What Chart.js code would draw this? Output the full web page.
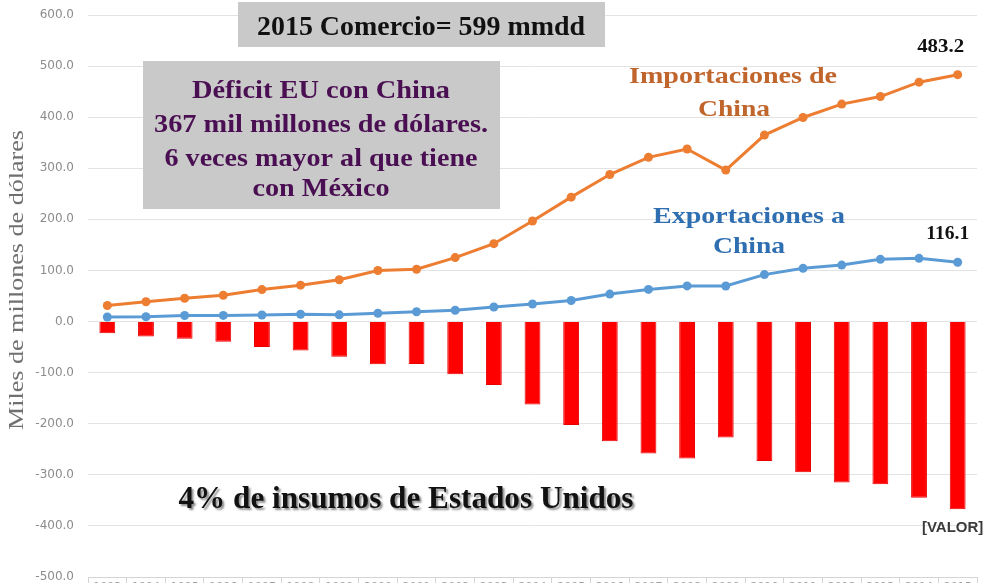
<!DOCTYPE html>
<html>
<head>
<meta charset="utf-8">
<script src="https://cdn.jsdelivr.net/npm/chart.js@4/dist/chart.umd.min.js"></script>
<style>
  html, body { margin: 0; padding: 0; width: 995px; height: 583px; overflow: hidden; background: #ffffff; }
  #wrap { position: relative; width: 995px; height: 600px; }
</style>
</head>
<body>
<div id="wrap"><canvas id="chart" width="995" height="600"></canvas></div>
<script>
// US trade in goods with China, billions of dollars (1993–2015)
const years = ['1993','1994','1995','1996','1997','1998','1999','2000','2001','2002','2003','2004',
               '2005','2006','2007','2008','2009','2010','2011','2012','2013','2014','2015'];
const importaciones = [31.5, 38.8, 45.5, 51.5, 62.6, 71.2, 81.8, 100.0, 102.3, 125.2, 152.4, 196.7,
                       243.5, 287.8, 321.4, 337.8, 296.4, 364.9, 399.4, 425.6, 440.4, 468.5, 483.2];
const exportaciones = [8.8, 9.3, 11.8, 12.0, 12.9, 14.2, 13.1, 16.2, 19.2, 22.1, 28.4, 34.4,
                       41.2, 53.7, 62.9, 69.7, 69.5, 91.9, 104.1, 110.5, 121.7, 123.7, 116.1];
const deficit = [-22.8, -29.5, -33.8, -39.5, -49.7, -56.9, -68.7, -83.8, -83.1, -103.1, -124.1, -162.3,
                 -202.3, -234.1, -258.5, -268.0, -226.9, -273.0, -295.2, -315.1, -318.7, -344.8, -367.2];
const yTicks = [-500, -400, -300, -200, -100, 0, 100, 200, 300, 400, 500, 600];

const SERIF = '"Liberation Serif", "Times New Roman", serif';

// draw text centred on cx, squeezed/stretched horizontally to the given width
function fitText(ctx, text, cx, baseline, size, width, color, weight) {
  ctx.save();
  ctx.font = (weight || 'bold') + ' ' + size + 'px ' + SERIF;
  const w = ctx.measureText(text).width;
  ctx.translate(cx, baseline);
  ctx.scale(width / w, 1);
  ctx.textAlign = 'center';
  ctx.textBaseline = 'alphabetic';
  ctx.fillStyle = color;
  ctx.fillText(text, 0, 0);
  ctx.restore();
}

const notes = {
  id: 'notes',
  afterDatasetsDraw(chart) {
    const ctx = chart.ctx;

    // y-axis title
    ctx.save();
    ctx.translate(18, 280);
    ctx.rotate(-Math.PI / 2);
    ctx.font = '20px ' + SERIF;
    const tw = ctx.measureText('Miles de millones de dólares').width;
    ctx.scale(300 / tw, 1);
    ctx.textAlign = 'center';
    ctx.textBaseline = 'middle';
    ctx.fillStyle = '#707070';
    ctx.fillText('Miles de millones de dólares', 0, 0);
    ctx.restore();

    // headline box
    ctx.fillStyle = '#c9c9c9';
    ctx.fillRect(238, 2, 367, 45);
    fitText(ctx, '2015 Comercio= 599 mmdd', 421, 35, 27, 328, '#111111');

    // deficit box
    ctx.fillStyle = '#c9c9c9';
    ctx.fillRect(143, 61, 357, 148);
    const purple = '#4a0f52';
    fitText(ctx, 'Déficit EU con China', 321, 98, 25, 258, purple);
    fitText(ctx, '367 mil millones de dólares.', 321, 132, 25, 334, purple);
    fitText(ctx, '6 veces mayor al que tiene', 321, 166, 25, 313, purple);
    fitText(ctx, 'con México', 321, 196, 25, 137, purple);

    // series captions
    fitText(ctx, 'Importaciones de', 733, 83, 24, 208, '#c0652b');
    fitText(ctx, 'China', 734, 116, 24, 72, '#c0652b');
    fitText(ctx, 'Exportaciones a', 749, 223, 24, 192, '#2f6eb0');
    fitText(ctx, 'China', 749, 253, 24, 72, '#2f6eb0');

    // bottom caption with drop shadow
    ctx.save();
    ctx.shadowColor = 'rgba(0,0,0,0.45)';
    ctx.shadowOffsetX = 2;
    ctx.shadowOffsetY = 2;
    ctx.shadowBlur = 2;
    fitText(ctx, '4% de insumos de Estados Unidos', 406, 508, 31, 455, '#111111');
    ctx.restore();

    // value labels on the last points of each line
    const last = years.length - 1;
    const pImp = chart.getDatasetMeta(1).data[last];
    const pExp = chart.getDatasetMeta(2).data[last];
    fitText(ctx, importaciones[last].toFixed(1), pImp.x - 17, pImp.y - 23, 19, 47, '#111111');
    fitText(ctx, exportaciones[last].toFixed(1), pExp.x - 10, pExp.y - 23, 19, 43, '#111111');

    // placeholder label under the last bar
    const bar = chart.getDatasetMeta(0).data[last];
    ctx.save();
    ctx.font = 'bold 15px "Liberation Sans", Arial, sans-serif';
    ctx.fillStyle = '#3a3a3a';
    ctx.textAlign = 'center';
    ctx.textBaseline = 'alphabetic';
    ctx.fillText('[VALOR]', bar.x - 5, bar.y + 23);
    ctx.restore();
  }
};

new Chart(document.getElementById('chart'), {
  type: 'bar',
  data: {
    labels: years,
    datasets: [
      {
        type: 'bar',
        label: 'Déficit',
        data: deficit,
        backgroundColor: '#ff0000',
        borderColor: '#e60000',
        borderWidth: 1,
        barPercentage: 0.41,
        categoryPercentage: 1,
        order: 3
      },
      {
        type: 'line',
        label: 'Importaciones de China',
        data: importaciones,
        borderColor: '#ed7d31',
        backgroundColor: '#ed7d31',
        borderWidth: 3,
        pointRadius: 4.5,
        pointBorderWidth: 0,
        tension: 0,
        order: 1
      },
      {
        type: 'line',
        label: 'Exportaciones a China',
        data: exportaciones,
        borderColor: '#5b9bd5',
        backgroundColor: '#5b9bd5',
        borderWidth: 3,
        pointRadius: 4.5,
        pointBorderWidth: 0,
        tension: 0,
        order: 2
      }
    ]
  },
  options: {
    responsive: false,
    animation: false,
    devicePixelRatio: 1,
    layout: { padding: { top: 15, right: 18, bottom: 3, left: 0 } },
    plugins: { legend: { display: false }, tooltip: { enabled: false } },
    scales: {
      x: {
        offset: true,
        grid: { display: true, drawOnChartArea: false, drawTicks: true, tickLength: 10, color: '#d4d4d4', offset: true },
        border: { display: true, color: '#d4d4d4' },
        ticks: { padding: -6, color: '#a0a0a0', font: { family: '"DejaVu Sans", sans-serif', size: 11 }, maxRotation: 0, autoSkip: false },
        afterFit(scale) { scale.height = 20; }
      },
      y: {
        min: -500,
        max: 600,
        afterBuildTicks(scale) { scale.ticks = yTicks.map(v => ({ value: v })); },
        ticks: {
          padding: 14,
          color: '#8c8c8c',
          font: { family: '"DejaVu Sans", sans-serif', size: 12 },
          callback: v => Number(v).toFixed(1)
        },
        grid: { color: '#e3e3e3', drawTicks: false },
        border: { display: false },
        afterFit(scale) {
          scale.width = 88;
          scale.paddingTop = 0;
          scale.paddingBottom = 0;
        }
      }
    }
  },
  plugins: [notes]
});
</script>
</body>
</html>
